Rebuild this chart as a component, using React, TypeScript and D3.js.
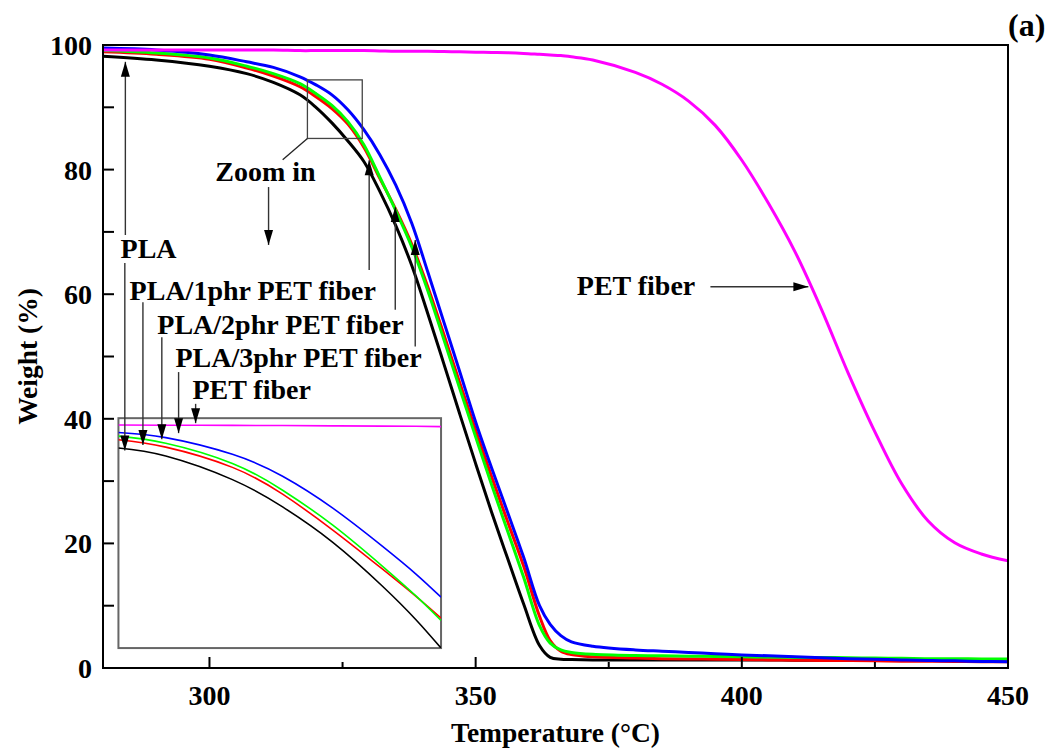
import React from 'react';
import * as d3 from 'd3';

// temperature grid (°C) shared by the main curves
const temps = [280, 290, 300, 307, 312, 317, 320, 323, 326, 329, 332, 335, 338, 341, 344, 347, 350, 353, 356, 359, 362, 364, 366, 368, 372, 380, 385, 390, 395, 400, 405, 410, 415, 420, 425, 430, 435, 440, 445, 450];

const plaW = [98.2, 97.6, 96.6, 95.4, 94.0, 92.0, 90.0, 87.5, 84.6, 81.3, 76.5, 71.0, 64.6, 56.9, 48.9, 40.8, 32.8, 25.0, 17.6, 10.3, 3.6, 1.7, 1.4, 1.35, 1.3, 1.3, 1.3, 1.3, 1.3, 1.3, 1.3, 1.25, 1.25, 1.25, 1.2, 1.2, 1.2, 1.2, 1.2, 1.2];
const pla1W = [98.9, 98.5, 97.7, 96.3, 95.0, 93.3, 91.7, 89.8, 87.3, 83.6, 78.6, 73.6, 68.0, 61.2, 53.6, 45.8, 38.2, 30.7, 23.5, 16.4, 8.3, 4.4, 2.7, 2.15, 1.8, 1.6, 1.5, 1.45, 1.4, 1.35, 1.3, 1.25, 1.2, 1.2, 1.15, 1.1, 1.1, 1.05, 1.0, 1.0];
const pla2W = [99.1, 98.7, 97.9, 96.6, 95.4, 93.8, 92.2, 90.3, 87.7, 84.0, 78.8, 73.4, 67.6, 60.6, 52.8, 44.9, 37.1, 29.4, 22.0, 14.6, 6.8, 4.0, 2.9, 2.5, 2.2, 2.0, 1.95, 1.9, 1.85, 1.8, 1.75, 1.7, 1.7, 1.65, 1.6, 1.55, 1.5, 1.5, 1.45, 1.45];
const pla3W = [99.5, 99.2, 98.4, 97.3, 96.4, 94.9, 93.6, 92.0, 89.6, 86.4, 82.4, 77.5, 71.4, 63.6, 55.6, 47.6, 39.5, 32.1, 25.0, 17.8, 10.0, 7.0, 5.2, 4.2, 3.5, 2.9, 2.7, 2.5, 2.3, 2.1, 1.95, 1.8, 1.65, 1.5, 1.4, 1.3, 1.2, 1.15, 1.05, 1.0];
const petW = [99.2, 99.2, 99.2, 99.2, 99.2, 99.1, 99.1, 99.1, 99.1, 99.1, 99.05, 99.0, 99.0, 99.0, 98.95, 98.9, 98.85, 98.8, 98.75, 98.65, 98.5, 98.4, 98.3, 98.1, 97.6, 95.6, 93.7, 91.0, 87.1, 81.5, 74.6, 66.8, 57.5, 47.3, 37.9, 29.6, 23.6, 20.1, 18.3, 17.2];

// zoomed-in inset (no tick labels in the original)
const insetTemps = [280, 286.6, 295.9, 302.9, 309.9, 316.8, 321.5, 325];
const insetPlaW = [98.05, 97.53, 95.99, 94.21, 91.9, 89.05, 86.85, 85.0];
const insetPla1W = [98.59, 98.11, 96.79, 95.04, 92.7, 90.16, 88.37, 86.95];
const insetPla2W = [98.83, 98.37, 97.05, 95.3, 93.02, 90.35, 88.4, 86.8];
const insetPla3W = [99.07, 98.73, 97.64, 96.21, 94.13, 91.65, 89.83, 88.32];
const insetPetW = [99.55, 99.54, 99.53, 99.52, 99.5, 99.48, 99.47, 99.45];

const xMajor = [300, 350, 400, 450];
const xMinor = [325, 375, 425];
const yMajor = [0, 20, 40, 60, 80, 100];
const yMinor = [10, 30, 50, 70, 90];

const series = [
  { name: 'PLA', color: '#000000', main: plaW, inset: insetPlaW },
  { name: 'PLA/1phr PET fiber', color: '#ff0000', main: pla1W, inset: insetPla1W },
  { name: 'PLA/2phr PET fiber', color: '#00ff00', main: pla2W, inset: insetPla2W },
  { name: 'PLA/3phr PET fiber', color: '#0000ff', main: pla3W, inset: insetPla3W },
  { name: 'PET fiber', color: '#ff00ff', main: petW, inset: insetPetW },
];

// text labels, in data units [temperature, weight] of the baseline start
const labels = [
  { text: 'Zoom in', t: 301.1, w: 78.1 },
  { text: 'PLA', t: 283.3, w: 65.8 },
  { text: 'PLA/1phr PET fiber', t: 285.0, w: 59.1 },
  { text: 'PLA/2phr PET fiber', t: 290.2, w: 53.6 },
  { text: 'PLA/3phr PET fiber', t: 293.6, w: 48.3 },
  { text: 'PET fiber', t: 296.8, w: 43.2 },
  { text: 'PET fiber', t: 369.0, w: 59.9 },
];

// arrows [from, to] in data units, head at "to"
const arrows = [
  [[284.2, 69.5], [284.2, 97.3]],
  [[284.1, 65.0], [284.1, 34.9]],
  [[311.1, 77.2], [311.1, 67.9]],
  [[330.0, 63.9], [330.0, 81.5]],
  [[287.5, 58.7], [287.5, 35.8]],
  [[334.9, 57.5], [334.9, 74.0]],
  [[291.05, 53.1], [291.05, 36.7]],
  [[338.65, 51.6], [338.65, 68.7]],
  [[294.2, 47.5], [294.2, 37.7]],
  [[297.4, 42.4], [297.4, 39.3]],
  [[394.1, 61.2], [412.5, 61.2]],
];

const zoomBox = { t0: 318.4, t1: 328.7, w0: 85.0, w1: 94.4 };
const insetBox = { t0: 282.9, t1: 343.5, w0: 3.2, w1: 40.1 };
const insetDomainT = [280, 325];
const insetDomainW = [85, 100];

const width = 1054;
const height = 754;
const margin = { top: 45, right: 46, bottom: 86, left: 103 };
const font = '"Liberation Serif", "Times New Roman", serif';

const App = () => {
  const x = d3.scaleLinear().domain([280, 450]).range([margin.left, width - margin.right]);
  const y = d3.scaleLinear().domain([0, 100]).range([height - margin.bottom, margin.top]);

  const ix = d3.scaleLinear().domain(insetDomainT).range([x(insetBox.t0), x(insetBox.t1)]);
  const iy = d3.scaleLinear().domain(insetDomainW).range([y(insetBox.w0), y(insetBox.w1)]);

  const mainLine = (vals) =>
    d3.line().x((d, i) => x(temps[i])).y(d => y(d)).curve(d3.curveCatmullRom.alpha(0.5))(vals);
  const insetLine = (vals) =>
    d3.line().x((d, i) => ix(insetTemps[i])).y(d => iy(d)).curve(d3.curveNatural)(vals);

  const x0 = x(280), x1 = x(450), y0 = y(0), y1 = y(100);

  const arrowHead = (fx, fy, tx, ty) => {
    const len = 15, half = 4.5;
    const dx = tx - fx, dy = ty - fy;
    const d = Math.hypot(dx, dy);
    const ux = dx / d, uy = dy / d;
    const bx = tx - ux * len, by = ty - uy * len;
    return `${tx},${ty} ${bx - uy * half},${by + ux * half} ${bx + uy * half},${by - ux * half}`;
  };

  return (
    <div>
      <style>{`body{margin:0;}`}</style>
      <svg width={width} height={height} style={{ display: 'block', background: '#fff' }} fontFamily={font}>
        <defs>
          <clipPath id="plotClip">
            <rect x={x0} y={y1} width={x1 - x0} height={y0 - y1} />
          </clipPath>
          <clipPath id="insetClip">
            <rect x={x(insetBox.t0)} y={y(insetBox.w1)} width={x(insetBox.t1) - x(insetBox.t0)} height={y(insetBox.w0) - y(insetBox.w1)} />
          </clipPath>
        </defs>

        {/* main curves */}
        <g clipPath="url(#plotClip)">
          {series.map(s => (
            <path key={'m' + s.color} d={mainLine(s.main)} fill="none" stroke={s.color} strokeWidth={3} />
          ))}
        </g>

        {/* zoom box + leader */}
        <rect x={x(zoomBox.t0)} y={y(zoomBox.w1)} width={x(zoomBox.t1) - x(zoomBox.t0)} height={y(zoomBox.w0) - y(zoomBox.w1)}
          fill="none" stroke="#444" strokeWidth={1.3} />
        <line x1={x(zoomBox.t0)} y1={y(zoomBox.w0)} x2={x(313.75)} y2={y(81.6)} stroke="#222" strokeWidth={1.3} />

        {/* inset */}
        <rect x={x(insetBox.t0)} y={y(insetBox.w1)} width={x(insetBox.t1) - x(insetBox.t0)} height={y(insetBox.w0) - y(insetBox.w1)}
          fill="#fff" stroke="#666" strokeWidth={2} />
        <g clipPath="url(#insetClip)">
          {series.map(s => (
            <path key={'i' + s.color} d={insetLine(s.inset)} fill="none" stroke={s.color} strokeWidth={1.6} />
          ))}
        </g>

        {/* arrows */}
        {arrows.map(([f, t], i) => {
          const fx = x(f[0]), fy = y(f[1]), tx = x(t[0]), ty = y(t[1]);
          return (
            <g key={'a' + i}>
              <line x1={fx} y1={fy} x2={tx} y2={ty} stroke="#333" strokeWidth={1.4} />
              <polygon points={arrowHead(fx, fy, tx, ty)} fill="#000" />
            </g>
          );
        })}

        {/* labels */}
        {labels.map((l, i) => (
          <text key={'l' + i} x={x(l.t)} y={y(l.w)} fontSize={28} fontWeight="bold" fill="#000">{l.text}</text>
        ))}

        {/* frame */}
        <rect x={x0} y={y1} width={x1 - x0} height={y0 - y1} fill="none" stroke="#000" strokeWidth={2} />

        {/* x ticks */}
        {xMajor.map(t => (
          <g key={'xm' + t}>
            <line x1={x(t)} x2={x(t)} y1={y0} y2={y0 - 11} stroke="#000" strokeWidth={2} />
            <text x={x(t)} y={y0 + 37} textAnchor="middle" fontSize={28} fontWeight="bold">{t}</text>
          </g>
        ))}
        {xMinor.map(t => (
          <line key={'xn' + t} x1={x(t)} x2={x(t)} y1={y0} y2={y0 - 6} stroke="#000" strokeWidth={2} />
        ))}

        {/* y ticks */}
        {yMajor.map(v => (
          <g key={'ym' + v}>
            <line x1={x0} x2={x0 + 11} y1={y(v)} y2={y(v)} stroke="#000" strokeWidth={2} />
            <text x={x0 - 11} y={y(v) + 10} textAnchor="end" fontSize={28} fontWeight="bold">{v}</text>
          </g>
        ))}
        {yMinor.map(v => (
          <line key={'yn' + v} x1={x0} x2={x0 + 11} y1={y(v)} y2={y(v)} stroke="#000" strokeWidth={2} />
        ))}

        {/* axis titles */}
        <text x={(x0 + x1) / 2} y={742} textAnchor="middle" fontSize={27.5} fontWeight="bold">Temperature (°C)</text>
        <text transform={`translate(37, ${(y0 + y1) / 2}) rotate(-90)`} textAnchor="middle" fontSize={27.5} fontWeight="bold">Weight (%)</text>

        <text x={x1} y={36} fontSize={32} fontWeight="bold">(a)</text>
      </svg>
    </div>
  );
};

export default App;
